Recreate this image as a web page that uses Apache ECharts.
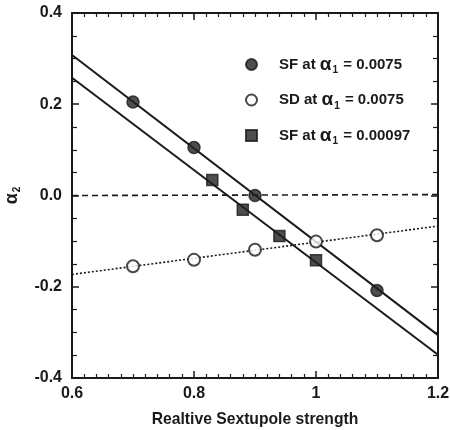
<!DOCTYPE html>
<html>
<head>
<meta charset="utf-8">
<script src="https://cdn.jsdelivr.net/npm/echarts@6/dist/echarts.min.js"></script>
<style>
  html, body { margin: 0; padding: 0; background: #fff; }
  #main { width: 450px; height: 430px; }
</style>
</head>
<body>
<div id="main"></div>
<script>
// data
var sfX = [0.7, 0.8, 0.9, 1.1]
var sfY = [0.205, 0.105, 0.0, -0.208]
var sdX = [0.7, 0.8, 0.9, 1.0, 1.1]
var sdY = [-0.155, -0.141, -0.119, -0.101, -0.087]
var sqX = [0.83, 0.88, 0.94, 1.0]
var sqY = [0.034, -0.031, -0.089, -0.142]
// fitted lines (end points at x = 0.6 and 1.2)
var fitX = [0.6, 1.2]
var sfFit = [0.308, -0.306]
var sqFit = [0.258, -0.349]
var sdFit = [-0.173, -0.067]
var zeroLine = [0.0, 0.002]

var legendText = {
  SF1: ['SF at ', '0.0075'],
  SD1: ['SD at ', '0.0075'],
  SF2: ['SF at ', '0.00097']
}

function pairs(xs, ys) {
  var out = []
  for (var i = 0; i < xs.length; i++) {
    out.push([xs[i], ys[i]])
  }
  return out
}

var fontFam = '"Liberation Sans", Arial, sans-serif'
var ink = '#1a1a1a'

var chart = echarts.init(document.getElementById('main'), null, { renderer: 'canvas' })

function mkXAxis(pos, showLabel) {
  return {
    type: 'value',
    position: pos,
    min: 0.6,
    max: 1.2,
    interval: 0.2,
    splitLine: { show: false },
    axisLine: { onZero: false, lineStyle: { color: ink, width: 2 } },
    axisTick: { inside: true, length: 7, lineStyle: { color: ink, width: 1.5 } },
    minorTick: { show: true, splitNumber: 10, length: 4, lineStyle: { color: ink, width: 1.2 } },
    axisLabel: {
      show: showLabel,
      margin: 8,
      color: ink,
      fontSize: 16,
      fontWeight: 'bold',
      fontFamily: fontFam,
      formatter: function (v) { return String(parseFloat(v.toFixed(1))) }
    }
  }
}

function mkYAxis(pos, showLabel) {
  return {
    type: 'value',
    position: pos,
    min: -0.4,
    max: 0.4,
    interval: 0.2,
    splitLine: { show: false },
    axisLine: { onZero: false, lineStyle: { color: ink, width: 2 } },
    axisTick: { inside: true, length: 7, lineStyle: { color: ink, width: 1.5 } },
    minorTick: { show: true, splitNumber: 4, length: 5, lineStyle: { color: ink, width: 1.2 } },
    axisLabel: {
      show: showLabel,
      margin: 10,
      color: ink,
      fontSize: 16,
      fontWeight: 'bold',
      fontFamily: fontFam,
      formatter: function (v) { return v.toFixed(1) }
    }
  }
}

var xBottom = mkXAxis('bottom', true)
xBottom.name = 'Realtive Sextupole strength'
xBottom.nameLocation = 'middle'
xBottom.nameGap = 34
xBottom.nameTextStyle = { color: ink, fontSize: 15.7, fontWeight: 'bold', fontFamily: fontFam }

var yLeft = mkYAxis('left', true)
yLeft.name = '{a|α}{s|2}'
yLeft.nameLocation = 'middle'
yLeft.nameGap = 50
yLeft.nameRotate = 90
yLeft.nameTextStyle = {
  color: ink,
  fontFamily: fontFam,
  rich: {
    a: { fontSize: 18, fontWeight: 'bold', color: ink, fontFamily: fontFam },
    s: { fontSize: 10, fontWeight: 'bold', color: ink, fontFamily: fontFam, padding: [10, 0, 0, 1] }
  }
}

var lineStyleSolid = { color: ink, width: 2 }

var option = {
  backgroundColor: '#fff',
  animation: false,
  grid: { left: 72, right: 12, top: 13, bottom: 52, outerBoundsMode: 'none' },
  xAxis: [xBottom, mkXAxis('top', false)],
  yAxis: [yLeft, mkYAxis('right', false)],
  legend: {
    orient: 'vertical',
    left: 240,
    top: 50,
    itemGap: 15,
    itemWidth: 11,
    itemHeight: 11,
    data: [
      { name: 'SF1', icon: 'circle' },
      { name: 'SD1', icon: 'circle', itemStyle: { color: '#fff', borderColor: ink, borderWidth: 2 } },
      { name: 'SF2', icon: 'rect' }
    ],
    formatter: function (name) {
      var t = legendText[name]
      return '{t|' + t[0] + '}{a|α}{s|1}{u| = ' + t[1] + '}'
    },
    textStyle: {
      color: ink,
      fontFamily: fontFam,
      rich: {
        t: { fontSize: 15, fontWeight: 'bold', color: ink, fontFamily: fontFam, padding: [0, 0, 0, 17] },
        a: { fontSize: 19, fontWeight: 'bold', color: ink, fontFamily: fontFam },
        s: { fontSize: 10, fontWeight: 'bold', color: ink, fontFamily: fontFam, padding: [12, 1, 0, 1] },
        u: { fontSize: 15, fontWeight: 'bold', color: ink, fontFamily: fontFam }
      }
    }
  },
  series: [
    {
      type: 'line', data: pairs(fitX, sfFit), symbol: 'none', silent: true,
      lineStyle: lineStyleSolid, z: 1
    },
    {
      type: 'line', data: pairs(fitX, sqFit), symbol: 'none', silent: true,
      lineStyle: lineStyleSolid, z: 1
    },
    {
      type: 'line', data: pairs(fitX, sdFit), symbol: 'none', silent: true,
      lineStyle: { color: ink, width: 1.6, type: [2, 2] }, z: 1
    },
    {
      type: 'line', data: pairs(fitX, zeroLine), symbol: 'none', silent: true,
      lineStyle: { color: ink, width: 1.6, type: [6, 4] }, z: 1
    },
    {
      name: 'SF1', type: 'scatter', data: pairs(sfX, sfY),
      symbol: 'circle', symbolSize: 12,
      itemStyle: { color: '#222', borderColor: ink, borderWidth: 1.5 }, z: 3
    },
    {
      name: 'SD1', type: 'scatter', data: pairs(sdX, sdY),
      symbol: 'circle', symbolSize: 12,
      itemStyle: { color: '#fff', borderColor: ink, borderWidth: 2 }, z: 3
    },
    {
      name: 'SF2', type: 'scatter', data: pairs(sqX, sqY),
      symbol: 'rect', symbolSize: 11,
      itemStyle: { color: '#222', borderColor: ink, borderWidth: 1.5 }, z: 3
    }
  ]
}

chart.setOption(option)
</script>
</body>
</html>
